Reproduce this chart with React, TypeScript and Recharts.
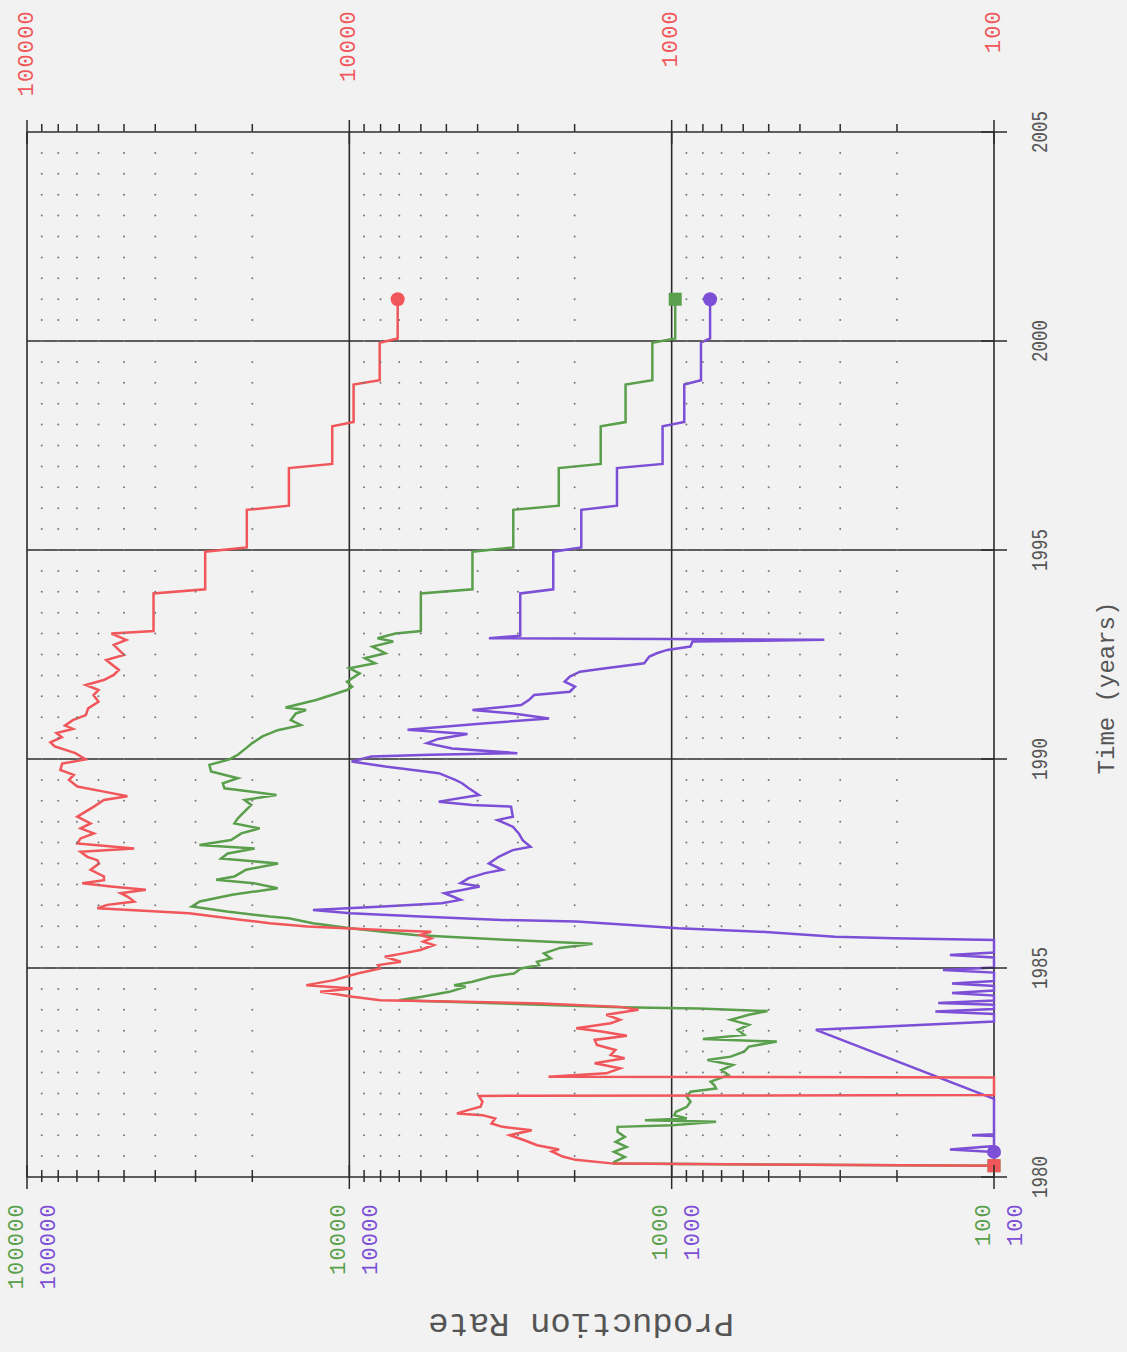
import React from "react";
import { ComposedChart, Line, Scatter, XAxis, YAxis, ReferenceLine } from "recharts";

// [time (years), production rate], 1980 to early 1993
const redRate: [number, number][] = [
  [1980.27, 100], [1980.32, 1510], [1980.41, 1985], [1980.49, 2178], [1980.61, 2354], [1980.66, 2235],
  [1980.76, 2614], [1980.88, 2864], [1981.0, 3178], [1981.12, 2718], [1981.2, 3350], [1981.28, 3622],
  [1981.4, 3527], [1981.48, 3862], [1981.52, 4636], [1981.6, 4288], [1981.68, 3917], [1981.8, 3862],
  [1981.94, 3965], [1981.96, 100], [1982.38, 100], [1982.4, 2410], [1982.48, 1596], [1982.6, 1445],
  [1982.72, 1733], [1982.84, 1400], [1982.92, 1545], [1983.04, 1494], [1983.16, 1706], [1983.28, 1733],
  [1983.38, 1377], [1983.48, 1650], [1983.56, 1977], [1983.68, 1545], [1983.76, 1445], [1983.88, 1596],
  [1984.0, 1268], [1984.07, 1445], [1984.15, 2530], [1984.19, 4436], [1984.23, 8016], [1984.31, 9770],
  [1984.43, 12310], [1984.51, 9770], [1984.59, 13590], [1984.71, 11150], [1984.87, 9440], [1984.99, 8016],
  [1985.07, 8150], [1985.15, 6920], [1985.27, 7760], [1985.35, 6800], [1985.43, 6020], [1985.55, 5470],
  [1985.63, 5900], [1985.71, 5570], [1985.79, 6020], [1985.87, 5570], [1985.91, 7880], [1985.99, 13490],
  [1986.07, 17660], [1986.15, 21500], [1986.31, 31400], [1986.43, 60500], [1986.51, 56300], [1986.59, 46500],
  [1986.71, 48800], [1986.79, 51200], [1986.87, 42800], [1986.95, 54900], [1987.03, 67400], [1987.1, 57700],
  [1987.19, 57700], [1987.35, 63500], [1987.5, 59800], [1987.58, 60500], [1987.66, 65000], [1987.78, 68200],
  [1987.86, 46500], [1987.98, 69800], [1988.1, 68200], [1988.22, 62000], [1988.34, 68200], [1988.46, 63500],
  [1988.62, 69800], [1988.86, 62000], [1989.02, 57700], [1989.11, 48800], [1989.22, 57700], [1989.34, 69800],
  [1989.5, 74100], [1989.62, 71600], [1989.74, 78800], [1989.89, 77800], [1989.99, 65800], [1990.14, 70800],
  [1990.3, 82000], [1990.4, 84600], [1990.52, 78000], [1990.62, 81000], [1990.72, 72000], [1990.8, 76200],
  [1990.93, 72100], [1991.05, 65700], [1991.21, 64600], [1991.37, 60000], [1991.53, 62200], [1991.65, 60000],
  [1991.77, 65700], [1991.89, 57800], [1992.01, 53800], [1992.13, 51900], [1992.37, 56800], [1992.49, 50000],
  [1992.61, 51900], [1992.73, 53800], [1992.85, 49200], [1993.0, 54700],
];

const greenRate: [number, number][] = [
  [1980.27, 100], [1980.32, 1510], [1980.36, 1510], [1980.48, 1397], [1980.6, 1510], [1980.72, 1380],
  [1980.84, 1492], [1980.96, 1397], [1981.08, 1472], [1981.2, 1472], [1981.24, 995], [1981.32, 728],
  [1981.36, 1210], [1981.4, 897], [1981.48, 982], [1981.56, 970], [1981.68, 897], [1981.8, 874],
  [1981.92, 897], [1982.04, 874], [1982.12, 728], [1982.2, 738], [1982.28, 757], [1982.36, 710],
  [1982.44, 667], [1982.56, 701], [1982.68, 646], [1982.8, 775], [1982.88, 656], [1983.0, 596],
  [1983.12, 576], [1983.24, 472], [1983.3, 800], [1983.4, 596], [1983.52, 624], [1983.64, 576],
  [1983.76, 656], [1983.88, 576], [1983.97, 504], [1984.03, 826], [1984.06, 1445], [1984.23, 7030],
  [1984.31, 5960], [1984.43, 4890], [1984.55, 4356], [1984.59, 4730], [1984.67, 4150], [1984.79, 3640],
  [1984.87, 3085], [1984.99, 2936], [1985.07, 2578], [1985.15, 2617], [1985.23, 2371], [1985.35, 2490],
  [1985.48, 2220], [1985.58, 1760], [1985.62, 2305], [1985.67, 3130], [1985.75, 4970], [1985.79, 6260],
  [1985.87, 7880], [1985.95, 9925], [1986.07, 12970], [1986.19, 15430], [1986.23, 17660], [1986.35, 23990],
  [1986.47, 30800], [1986.59, 29100], [1986.75, 23100], [1986.91, 16680], [1987.03, 19800], [1987.11, 25900],
  [1987.19, 22720], [1987.35, 20900], [1987.5, 16630], [1987.62, 25000], [1987.74, 23830], [1987.86, 19670],
  [1987.94, 29180], [1988.06, 23280], [1988.22, 21630], [1988.34, 18970], [1988.46, 22720], [1988.58, 22180],
  [1988.74, 21150], [1988.9, 20150], [1989.02, 21150], [1989.14, 16830], [1989.3, 24400], [1989.42, 24700],
  [1989.54, 22180], [1989.7, 26850], [1989.86, 27170], [1989.99, 23540], [1990.1, 22180], [1990.26, 20900],
  [1990.38, 20000], [1990.54, 18600], [1990.69, 16680], [1990.81, 14130], [1990.93, 15200], [1991.09, 14650],
  [1991.17, 13620], [1991.23, 15780], [1991.41, 12680], [1991.53, 11340], [1991.65, 10170], [1991.73, 9800],
  [1991.85, 10170], [1992.05, 9290], [1992.17, 10000], [1992.29, 8320], [1992.41, 8950], [1992.53, 7730],
  [1992.69, 8480], [1992.81, 7310], [1992.89, 8180], [1993.0, 7190],
];

const purpleRate: [number, number][] = [
  [1980.6, 100], [1980.66, 137], [1980.74, 100], [1980.98, 100], [1981.0, 117], [1981.02, 100],
  [1981.87, 100], [1983.52, 357], [1983.72, 100], [1983.9, 100], [1983.96, 152], [1984.02, 100],
  [1984.12, 100], [1984.16, 149], [1984.22, 100], [1984.34, 100], [1984.4, 135], [1984.46, 100],
  [1984.57, 100], [1984.63, 135], [1984.69, 100], [1984.89, 100], [1984.95, 144], [1985.01, 100],
  [1985.25, 100], [1985.31, 137], [1985.37, 100], [1985.67, 100], [1985.71, 205], [1985.75, 312],
  [1985.87, 535], [1985.95, 953], [1986.03, 1346], [1986.11, 1976], [1986.15, 3380], [1986.23, 6020],
  [1986.31, 9925], [1986.39, 12970], [1986.47, 7880], [1986.55, 5170], [1986.63, 4520], [1986.71, 4780],
  [1986.79, 5070], [1986.87, 4430], [1986.95, 3940], [1987.03, 4520], [1987.15, 4260], [1987.27, 3790],
  [1987.35, 3350], [1987.5, 3690], [1987.66, 3440], [1987.82, 3110], [1987.9, 2740], [1988.06, 2900],
  [1988.22, 2980], [1988.38, 3110], [1988.54, 3470], [1988.62, 3110], [1988.86, 3150], [1988.9, 4160],
  [1988.98, 5280], [1989.14, 3960], [1989.3, 4260], [1989.42, 4470], [1989.5, 4690], [1989.66, 5280],
  [1989.82, 7740], [1989.94, 9840], [1990.06, 8530], [1990.1, 5610], [1990.14, 3010], [1990.25, 4800],
  [1990.38, 5740], [1990.48, 5300], [1990.6, 4300], [1990.7, 6600], [1990.85, 3855], [1990.97, 2400],
  [1991.09, 3100], [1991.17, 4150], [1991.29, 2930], [1991.41, 2774], [1991.53, 2672], [1991.61, 2070],
  [1991.73, 1995], [1991.85, 2147], [1991.97, 2070], [1992.09, 1925], [1992.17, 1602], [1992.29, 1217],
  [1992.45, 1173], [1992.53, 1112], [1992.61, 1032], [1992.69, 875], [1992.81, 861], [1992.85, 336],
  [1992.89, 3690], [1992.95, 2950],
];

// yearly (flat) rates from 1993 on
const stepYears = [1993, 1994, 1995, 1996, 1997, 1998, 1999, 2000];
const redSteps = [40500, 28000, 20800, 15400, 11300, 9700, 8050, 7080];
const greenSteps = [6000, 4150, 3100, 2240, 1660, 1390, 1148, 975];
const purpleSteps = [2950, 2330, 1907, 1478, 1067, 914, 811, 760];

const yearTicks = [1980, 1985, 1990, 1995, 2000, 2005];
const decades = [100, 1000, 10000, 100000];
const minorRates = [
  200, 300, 400, 500, 600, 700, 800, 900,
  2000, 3000, 4000, 5000, 6000, 7000, 8000, 9000,
  20000, 30000, 40000, 50000, 60000, 70000, 80000, 90000,
];
const rateTicks = [...decades, ...minorRates].sort((a, b) => a - b);

const RED = "#f0565a";
const GREEN = "#5a9f4c";
const PURPLE = "#7c4fd6";
const INK = "#2b2b2b";
const TEXT = "#555";
const FONT = "'Liberation Mono', 'DejaVu Sans Mono', monospace";

const W = 1352; // chart is drawn sideways, then turned a quarter left
const H = 1127;

function buildSeries(noisy: [number, number][], steps: number[]) {
  const pts = noisy.map(([t, v]) => ({ t, v }));
  stepYears.forEach((y, i) => {
    pts.push({ t: y + 0.06, v: steps[i] });
    pts.push({ t: i === stepYears.length - 1 ? y + 1 : y + 0.96, v: steps[i] });
  });
  return pts;
}

const redData = buildSeries(redRate, redSteps);
const greenData = buildSeries(greenRate, greenSteps);
const purpleData = buildSeries(purpleRate, purpleSteps);

// dotted background grid: every half year x every minor log value
const halfYears = Array.from({ length: 51 }, (_, i) => 1980 + i * 0.5);
const gridDots = halfYears.flatMap((t) => minorRates.map((v) => ({ t, v })));

function marker(color: string, first: "square" | "circle" | null, last: "square" | "circle", count: number) {
  return (p: any) => {
    const key = `m-${color}-${p.index}`;
    let shape: "square" | "circle" | null = null;
    if (p.index === 0) shape = first;
    if (p.index === count - 1) shape = last;
    if (!shape || p.cx == null || p.cy == null) return <g key={key} />;
    if (shape === "square")
      return <rect key={key} x={p.cx - 6.5} y={p.cy - 6.5} width={13} height={13} fill={color} />;
    return <circle key={key} cx={p.cx} cy={p.cy} r={7} fill={color} />;
  };
}

function LeftRateTick(props: any) {
  const { x, y, payload } = props;
  const v = payload.value;
  const major = decades.includes(v);
  return (
    <g>
      <line x1={major ? x - 12 : x - 5} x2={major ? x + 12 : x + 7} y1={y} y2={y} stroke={INK} strokeWidth={1.5} />
      {major && (
        <text x={x - 26} y={y - 10} textAnchor="end" dominantBaseline="central" fill={GREEN}
          fontFamily={FONT} fontSize={22} letterSpacing={1.2}>{String(v)}</text>
      )}
      {major && (
        <text x={x - 26} y={y + 22} textAnchor="end" dominantBaseline="central" fill={PURPLE}
          fontFamily={FONT} fontSize={22} letterSpacing={1.2}>{String(v)}</text>
      )}
    </g>
  );
}

function RightRateTick(props: any) {
  const { x, y, payload } = props;
  const v = payload.value;
  const major = decades.includes(v);
  return (
    <g>
      <line x1={major ? x - 12 : x} x2={major ? x + 12 : x + 8} y1={y} y2={y} stroke={INK} strokeWidth={1.5} />
      {major && (
        <text x={x + 122} y={y} textAnchor="end" dominantBaseline="central" fill={RED}
          fontFamily={FONT} fontSize={22} letterSpacing={1.2}>{String(v)}</text>
      )}
    </g>
  );
}

function YearTick(props: any) {
  const { x, y, payload } = props;
  return (
    <g>
      <line x1={x} x2={x} y1={y - 13} y2={y + 13} stroke={INK} strokeWidth={1.5} />
      <text x={x} y={y + 47} textAnchor="middle" dominantBaseline="central" fill={TEXT}
        fontFamily={FONT} fontSize={22} textLength={42} lengthAdjust="spacingAndGlyphs">
        {String(payload.value)}
      </text>
    </g>
  );
}

export default function App() {
  return (
    <div style={{ position: "fixed", left: 0, top: 0, width: H, height: W, overflow: "hidden", background: "#f2f2f2" }}>
      <div style={{ position: "absolute", left: 0, top: 0, width: W, height: H, transformOrigin: "0 0", transform: `translate(0px, ${W}px) rotate(-90deg)` }}>
        <ComposedChart width={W} height={H} margin={{ top: 27, right: 12, bottom: 33, left: 25 }}>
          <XAxis dataKey="t" type="number" domain={[1980, 2005]} ticks={yearTicks} interval={0}
            axisLine={false} tickLine={false} tickSize={0} tickMargin={0}
            height={100} tick={<YearTick />} />
          <YAxis yAxisId="left" type="number" scale="log" domain={[100, 100000]} ticks={rateTicks}
            interval={0} axisLine={false} tickLine={false} tickSize={0} tickMargin={0}
            width={150} tick={<LeftRateTick />} />
          <YAxis yAxisId="right" orientation="right" type="number" scale="log" domain={[100, 100000]}
            ticks={rateTicks} interval={0} axisLine={false} tickLine={false}
            tickSize={0} tickMargin={0} width={120} tick={<RightRateTick />} />

          <Scatter yAxisId="left" data={gridDots} dataKey="v" isAnimationActive={false}
            shape={(p: any) => <circle cx={p.cx} cy={p.cy} r={1} fill="#777" />} />

          {decades.map((d) => (
            <ReferenceLine key={`d${d}`} yAxisId="left" y={d} stroke={INK} strokeWidth={1.6} />
          ))}
          {yearTicks.map((yr) => (
            <ReferenceLine key={`y${yr}`} yAxisId="left" x={yr} stroke={INK} strokeWidth={1.6} />
          ))}

          <Line yAxisId="left" data={greenData} dataKey="v" type="linear" stroke={GREEN} strokeWidth={2.5}
            dot={marker(GREEN, "square", "square", greenData.length)} activeDot={false} isAnimationActive={false} />
          <Line yAxisId="left" data={purpleData} dataKey="v" type="linear" stroke={PURPLE} strokeWidth={2.5}
            dot={marker(PURPLE, "circle", "circle", purpleData.length)} activeDot={false} isAnimationActive={false} />
          <Line yAxisId="right" data={redData} dataKey="v" type="linear" stroke={RED} strokeWidth={2.5}
            dot={marker(RED, "square", "circle", redData.length)} activeDot={false} isAnimationActive={false} />
        </ComposedChart>

        <div style={{ position: "absolute", left: 664, top: 1107, transform: "translate(-50%, -50%)", fontFamily: FONT, fontSize: 24, color: TEXT, whiteSpace: "nowrap" }}>
          Time (years)
        </div>
        <div style={{ position: "absolute", left: 29, top: 581, transform: "translate(-50%, -50%) rotate(-90deg)", fontFamily: FONT, fontSize: 34, color: TEXT, whiteSpace: "nowrap" }}>
          Production Rate
        </div>
      </div>
    </div>
  );
}
